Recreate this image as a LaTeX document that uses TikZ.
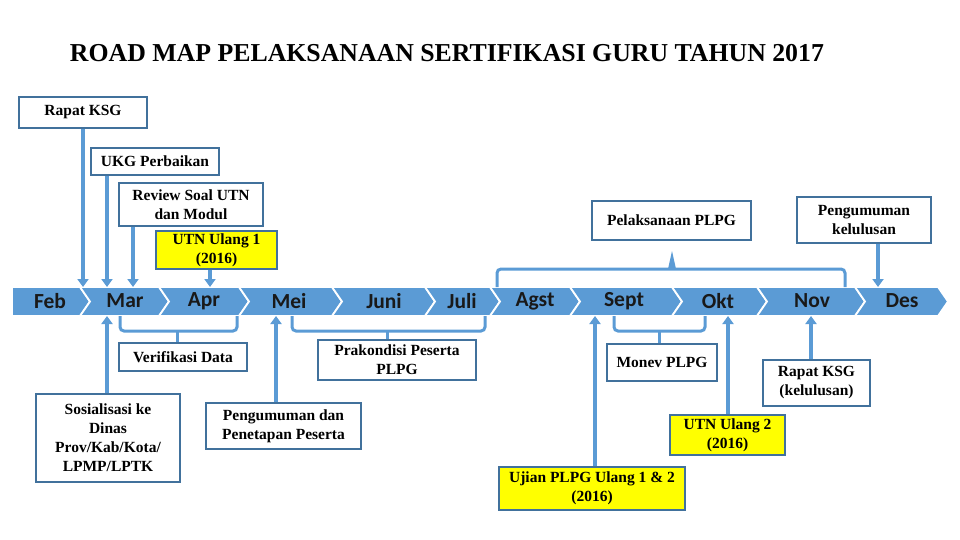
\documentclass[tikz,border=0pt]{standalone}
\usepackage{fontspec}
\setmainfont{Liberation Serif}
\newfontfamily\monthfont{Carlito}
\usepackage{tikz}
\usetikzlibrary{positioning,arrows.meta,calc}

\definecolor{bandblue}{RGB}{91,155,213}
\definecolor{boxline}{RGB}{65,113,156}
\definecolor{hiyellow}{RGB}{255,255,0}

\begin{document}
\begin{tikzpicture}[
          x=1pt, y=-1pt,
          box/.style={draw=boxline, line width=2pt, fill=white, align=center, inner sep=2pt,
                      font=\fontsize{15.5}{19}\selectfont\bfseries},
          hilite/.style={box, fill=hiyellow},
          month/.style={font=\monthfont\fontsize{21.5}{24}\selectfont\bfseries, text=black!90},
          band/.style={fill=bandblue, draw=white, line width=1.8pt},
          arr/.style={-{Triangle[length=8pt, width=11pt]}, line width=3.5pt, draw=bandblue},
          brace/.style={line width=3pt, draw=bandblue, rounded corners=4pt}
      ]
        \useasboundingbox (0,0) rectangle (960,540);

        \node[font=\fontsize{25.8}{30}\selectfont\bfseries] (title) at (447,53)
            {ROAD MAP PELAKSANAAN SERTIFIKASI GURU TAHUN 2017};

        % timeline chevrons
        \fill[band] (12,287) -- (80,287) -- (90,301.5) -- (80,316) -- (12,316) -- cycle;
        \foreach \a/\b in {90/169,169/249,249/342,342/435,435/500,500/580,580/682,682/767,767/865,865/948}
          \fill[band] (\a-10,287) -- (\b-10,287) -- (\b,301.5) -- (\b-10,316) -- (\a-10,316) -- (\a,301.5) -- cycle;

        \foreach \m/\x in {Feb/50,Mar/125,Apr/204,Mei/289,Juni/384,Juli/462,Agst/535,Sept/624,Okt/718,Nov/812,Des/902}
          \node[month] (m\m) at (\x,301) {\m};

        % boxes above
        \node[box, minimum width=128pt, minimum height=31pt] (rapat) at (83,112.5) {Rapat KSG};
        \node[box, minimum width=128pt, minimum height=27pt] (ukg) at (155,161.5) {UKG Perbaikan};
        \node[box, minimum width=144pt, minimum height=43pt] (review) at (191,204.5) {Review Soal UTN\\dan Modul};
        \node[hilite, minimum width=121pt, minimum height=34pt] (utn1) at (216.5,250) {UTN Ulang 1\\(2016)};
        \node[box, minimum width=159pt, minimum height=39pt] (pelaks) at (671.5,220) {Pelaksanaan PLPG};
        \node[box, minimum width=134pt, minimum height=46pt] (umum) at (864,220) {Pengumuman\\kelulusan};

        % boxes below
        \node[box, minimum width=128pt, minimum height=28pt] (verif) at (183,357) {Verifikasi Data};
        \node[box, minimum width=144pt, minimum height=88pt] (sosial) at (108,438) {Sosialisasi ke\\Dinas\\Prov/Kab/Kota/\\LPMP/LPTK};
        \node[box, minimum width=155pt, minimum height=46pt] (penetap) at (283.5,426) {Pengumuman dan\\Penetapan Peserta};
        \node[box, minimum width=158pt, minimum height=40pt] (prakon) at (397,360) {Prakondisi Peserta\\PLPG};
        \node[box, minimum width=110pt, minimum height=37pt] (monev) at (662,362.5) {Monev PLPG};
        \node[hilite, minimum width=186pt, minimum height=43pt] (ujian) at (592,488.5) {Ujian PLPG Ulang 1 \& 2\\(2016)};
        \node[hilite, minimum width=115pt, minimum height=40pt] (utn2) at (727.5,435) {UTN Ulang 2\\(2016)};
        \node[box, minimum width=107pt, minimum height=46pt] (rapatk) at (816.5,383) {Rapat KSG\\(kelulusan)};

        % arrow ends on the band
        \coordinate (tRapat) at (83,287);
        \coordinate (tUkg) at (107,287);
        \coordinate (tReview) at (133,287);
        \coordinate (tUtn1) at (210,287);
        \coordinate (tUmum) at (878,287);
        \coordinate (bSosial) at (107,316);
        \coordinate (bPenetap) at (276,316);
        \coordinate (bUjian) at (595,316);
        \coordinate (bUtn2) at (728,316);
        \coordinate (bRapatk) at (811,316);

        \draw[arr] (rapat.south -| tRapat) -- (tRapat);
        \draw[arr] (ukg.south -| tUkg) -- (tUkg);
        \draw[arr] (review.south -| tReview) -- (tReview);
        \draw[arr] (utn1.south -| tUtn1) -- (tUtn1);
        \draw[arr] (umum.south -| tUmum) -- (tUmum);
        \draw[arr] (sosial.north -| bSosial) -- (bSosial);
        \draw[arr] (penetap.north -| bPenetap) -- (bPenetap);
        \draw[arr] (ujian.north -| bUjian) -- (bUjian);
        \draw[arr] (utn2.north -| bUtn2) -- (bUtn2);
        \draw[arr] (rapatk.north -| bRapatk) -- (bRapatk);

        % brackets
        \coordinate (kVerif) at (177,331);
        \coordinate (kPrakon) at (387,331);
        \coordinate (kMonev) at (659,331);
        \coordinate (kPelaks) at (672,269);
        \draw[brace] (120,316) -- (120,331) -- (237,331) -- (237,316);
        \draw[brace] (292,316) -- (292,331) -- (485,331) -- (485,316);
        \draw[brace] (614,316) -- (614,331) -- (705,331) -- (705,316);
        \draw[brace] (497,287) -- (497,269) -- (845,269) -- (845,287);
        \draw[brace, rounded corners=0pt] (kVerif) -- (verif.north -| kVerif);
        \draw[brace, rounded corners=0pt] (kPrakon) -- (prakon.north -| kPrakon);
        \draw[brace, rounded corners=0pt] (kMonev) -- (monev.north -| kMonev);
        \fill[bandblue] ($(kPelaks)+(-4,0)$) -- ($(kPelaks)+(0,-18)$) -- ($(kPelaks)+(4,0)$) -- cycle;
      \end{tikzpicture}
\end{document}
